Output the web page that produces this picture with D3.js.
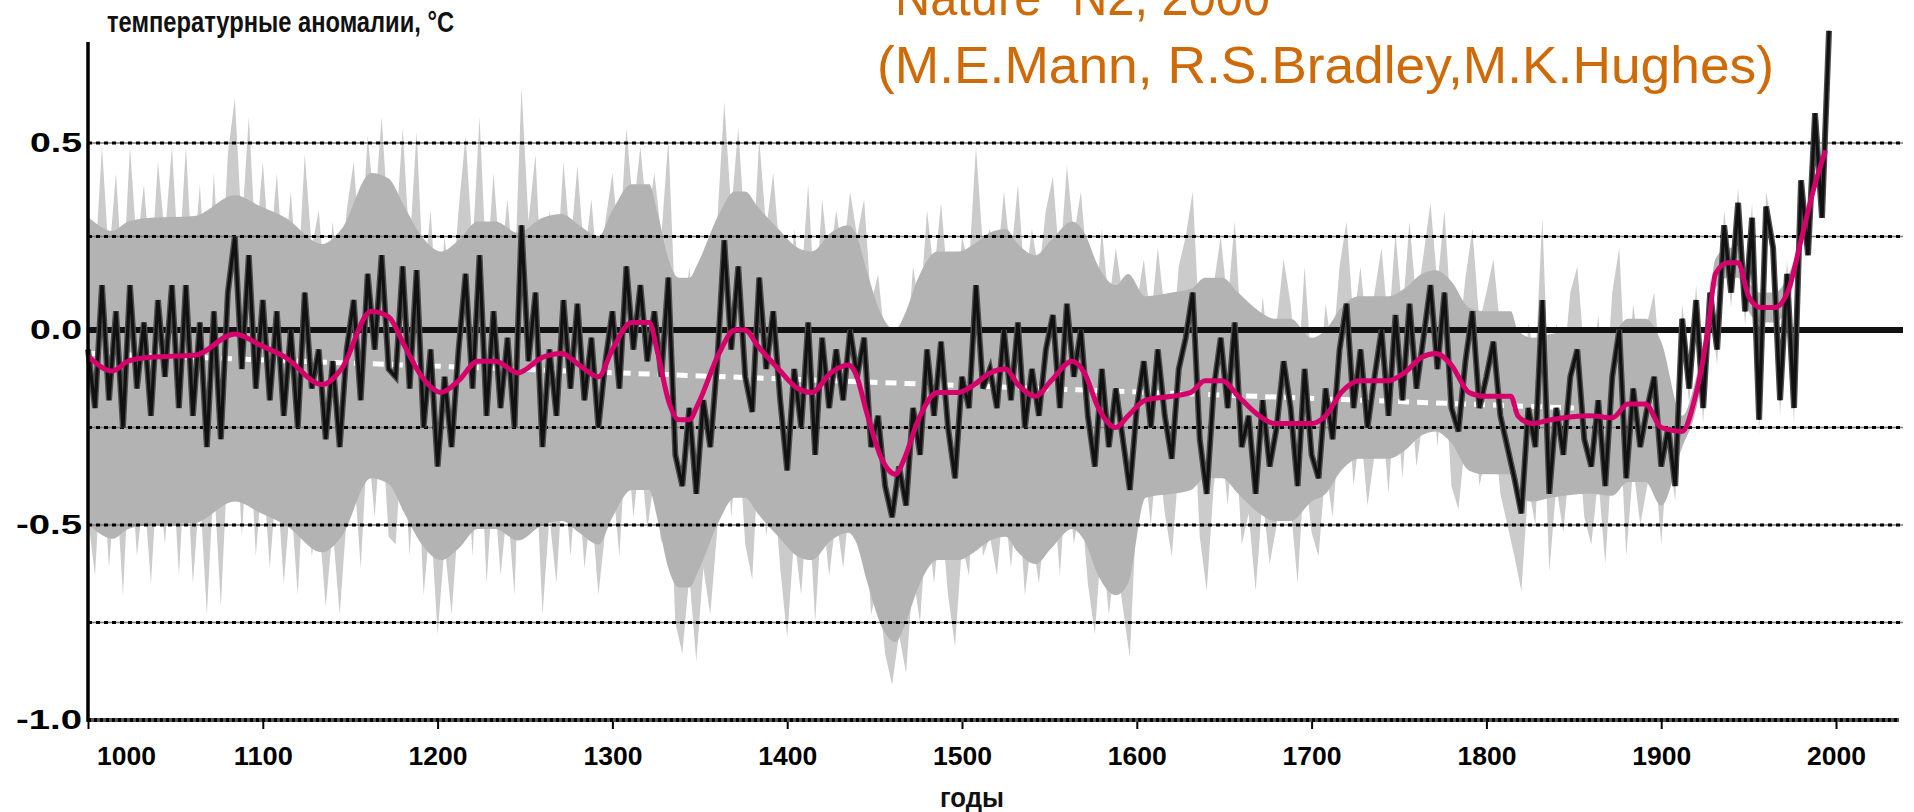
<!DOCTYPE html>
<html>
<head>
<meta charset="utf-8">
<script src="https://cdn.jsdelivr.net/npm/d3@7"></script>
<style>
  html, body { margin: 0; padding: 0; background: #fff; }
  svg { display: block; }
</style>
</head>
<body>
<svg id="chart" width="1914" height="812"></svg>
<script>
/* Annual reconstruction (deg C), one value every 4 years starting in 1000 */
const annualStart = 1000
const annualStep = 4
const annual = [
  -0.05, -0.20, 0.12, -0.18, 0.05, -0.25, 0.12, -0.15, 0.02, -0.22,
  0.08, -0.12, 0.12, -0.20, 0.12, -0.22, 0.02, -0.30, 0.05, -0.28,
  0.10, 0.25, -0.10, 0.20, -0.15, 0.08, -0.18, 0.05, -0.22, 0.00,
  -0.25, 0.10, -0.15, -0.05, -0.28, -0.08, -0.30, -0.05, 0.08, -0.18,
  0.15, -0.05, 0.20, -0.10,
  -0.12, 0.17, -0.15, 0.16, -0.25, -0.05, -0.35, -0.12, -0.30, -0.05,
  0.15, -0.15, 0.20, -0.22, 0.05, -0.20, -0.02, -0.25, 0.28, -0.08,
  0.10, -0.30, -0.05, -0.22, 0.08, -0.15, 0.07, -0.18, -0.02, -0.25,
  -0.08, 0.05, -0.15, 0.17, -0.05, 0.12, -0.08, 0.05, -0.12, 0.14,
  -0.32, -0.40, -0.20,
  -0.42, -0.18, -0.30, -0.08, 0.24, -0.05, 0.17, -0.12, -0.21, 0.14,
  -0.10, 0.05, -0.18, -0.36, -0.10, -0.25, 0.02, -0.32, -0.02, -0.20,
  -0.05, -0.18, 0.00, -0.12, -0.02, -0.30, -0.22, -0.40, -0.48, -0.35,
  -0.45, -0.20, -0.32, -0.05, -0.22, -0.03, -0.25, -0.38, -0.12, -0.20,
  0.12, -0.15,
  -0.10, -0.20, 0.00, -0.18, 0.02, -0.25, -0.10, -0.22, -0.05, 0.04,
  -0.20, 0.07, -0.12, 0.00, -0.22, -0.35, -0.10, -0.30, -0.15, -0.28,
  -0.41, -0.20, -0.08, -0.25, -0.05, -0.22, -0.33, -0.10, -0.02, 0.10,
  -0.28, -0.42, -0.15, -0.02, -0.20, 0.02, -0.30, -0.22, -0.42, -0.18,
  -0.35, -0.25, -0.08,
  -0.20, -0.40, -0.10, -0.32, -0.38, -0.15, -0.28, -0.05, 0.07, -0.20,
  -0.05, -0.25, -0.12, 0.00, -0.22, 0.04, -0.18, 0.07, -0.15, -0.02,
  0.12, -0.10, 0.10, -0.20, -0.26, -0.08, 0.05, -0.20, -0.12, -0.03,
  -0.22, -0.30, -0.38, -0.47, -0.20, -0.30, 0.08, -0.42, -0.20, -0.32,
  -0.12, -0.05, -0.28,
  -0.35, -0.18, -0.40, -0.12, 0.00, -0.38, -0.15, -0.30, -0.20, -0.12,
  -0.35, -0.25, -0.40, 0.03, -0.15, 0.08, -0.20, 0.10, -0.05, 0.28,
  0.10, 0.34, 0.05, 0.30, -0.23, 0.33, 0.22, -0.18, 0.15, -0.20,
  0.40, 0.20, 0.58, 0.30, 0.80
]

/* 40-year smoothed curve */
const smoothYears = [
  1000, 1014, 1023, 1036, 1061, 1084, 1099, 1113, 1134, 1145, 1162, 1172, 1181, 1191, 1202,
  1212, 1223, 1233, 1246, 1260, 1271, 1281, 1292, 1300, 1311, 1321, 1326, 1332, 1338, 1344,
  1349, 1361, 1370, 1376, 1383, 1395, 1406, 1414, 1425, 1435, 1439, 1446, 1454, 1462, 1467,
  1475, 1486, 1498, 1507, 1516, 1525, 1532, 1542, 1551, 1563, 1570, 1578, 1588, 1595, 1605,
  1620, 1631, 1639, 1649, 1658, 1670, 1679, 1688, 1700, 1708, 1717, 1727, 1744, 1753, 1763,
  1771, 1780, 1790, 1799, 1814, 1818, 1826, 1837, 1859, 1872, 1881, 1891, 1900, 1912, 1919,
  1927, 1931, 1938, 1944, 1950, 1957, 1965, 1973, 1980, 1988, 1994
]
const smoothValues = [
  -0.067, -0.105, -0.08, -0.07, -0.065, -0.01, -0.04, -0.07, -0.14, -0.10, 0.05, 0.035, -0.04, -0.12, -0.16,
  -0.13, -0.08, -0.08, -0.11, -0.07, -0.06, -0.09, -0.12, -0.05, 0.02, 0.02, -0.06, -0.18, -0.23, -0.23,
  -0.19, -0.06, 0.0, 0.0, -0.04, -0.10, -0.15, -0.16, -0.11, -0.09, -0.11, -0.22, -0.33, -0.37, -0.33,
  -0.23, -0.16, -0.16, -0.14, -0.11, -0.10, -0.14, -0.17, -0.13, -0.08, -0.11, -0.20, -0.25, -0.22, -0.18,
  -0.17, -0.16, -0.13, -0.13, -0.17, -0.22, -0.24, -0.24, -0.24, -0.22, -0.16, -0.13, -0.13, -0.11, -0.07,
  -0.06, -0.09, -0.16, -0.17, -0.17, -0.22, -0.24, -0.23, -0.22, -0.225, -0.19, -0.19, -0.25, -0.26, -0.18,
  0.01, 0.15, 0.18, 0.18, 0.09, 0.06, 0.06, 0.11, 0.24, 0.39, 0.48
]

/* Uncertainty band: half-widths above / below the curve, per period */
const bandFrom = [1000, 1600, 1700, 1902, 1980]
const bandUp = [0.37, 0.27, 0.22, 0.04, 0]
const bandDown = [0.43, 0.25, 0.20, 0.04, 0]

/* Linear trend 1000-1850 */
const trendYears = [1000, 1850]
const trendValues = [-0.06, -0.20]

/* Ticks and labels */
const xTicks = [1000, 1100, 1200, 1300, 1400, 1500, 1600, 1700, 1800, 1900, 2000]
const yTicks = [0.5, 0.0, -0.5, -1.0]
const gridValues = [0.5, 0.25, -0.25, -0.5, -0.75]
const titleText = "температурные аномалии, °C"
const xLabel = "годы"
const sourceLines = ["Nature\" N2, 2000", "(M.E.Mann, R.S.Bradley,M.K.Hughes)"]

/* Layout */
const plotLeft = 88
const plotRight = 1903
const plotTop = 42
const labelFont = "'Liberation Sans', Arial, sans-serif"

const svg = d3.select("#chart")

const x = d3.scaleLinear([1000, 2000], [plotLeft, 1836])
const y = d3.scaleLinear([-1, 0, 0.5], [720, 330, 143])

const series = annual.map((v, i) => [annualStart + i * annualStep, v])
const smooth = smoothYears.map((yr, i) => [yr, smoothValues[i]])
const eraOf = yr => d3.bisectRight(bandFrom, yr) - 1

const band = d3.area()
  .x(d => x(d[0]))
  .y0(d => y(d[1] - bandDown[eraOf(d[0])]))
  .y1(d => y(d[1] + bandUp[eraOf(d[0])]))

/* uncertainty band: spiky fringe around annual values, solid core around the smooth curve */
svg.append("path")
  .datum(series)
  .attr("fill", "#cbcbcb")
  .attr("d", band)
svg.append("path")
  .datum(smooth)
  .attr("fill", "#b3b3b3")
  .attr("d", band.curve(d3.curveMonotoneX))

/* dotted grid lines */
const grid = svg.append("g")
grid.selectAll("line.under")
  .data(gridValues)
  .join("line")
  .attr("class", "under")
  .attr("x1", plotLeft).attr("x2", plotRight)
  .attr("y1", d => y(d)).attr("y2", d => y(d))
  .attr("stroke", "#7a7a7a")
  .attr("stroke-width", 1.5)
grid.selectAll("line.dots")
  .data(gridValues)
  .join("line")
  .attr("class", "dots")
  .attr("x1", plotLeft).attr("x2", plotRight)
  .attr("y1", d => y(d)).attr("y2", d => y(d))
  .attr("stroke", "#000")
  .attr("stroke-width", 3)
  .attr("stroke-dasharray", "4,4")

/* white dashed trend */
svg.append("path")
  .datum(trendYears.map((yr, i) => [yr, trendValues[i]]))
  .attr("fill", "none")
  .attr("stroke", "#fff")
  .attr("stroke-width", 5)
  .attr("stroke-dasharray", "11,8")
  .attr("d", d3.line().x(d => x(d[0])).y(d => y(d[1])))

/* thick zero line */
svg.append("line")
  .attr("x1", plotLeft).attr("x2", plotRight)
  .attr("y1", y(0)).attr("y2", y(0))
  .attr("stroke", "#111")
  .attr("stroke-width", 6)

/* annual values */
const annualLine = d3.line().x(d => x(d[0])).y(d => y(d[1]))
svg.append("path")
  .datum(series)
  .attr("fill", "none")
  .attr("stroke", "#4d4d4d")
  .attr("stroke-width", 6)
  .attr("d", annualLine)
svg.append("path")
  .datum(series)
  .attr("fill", "none")
  .attr("stroke", "#111")
  .attr("stroke-width", 3.2)
  .attr("d", annualLine)

/* smoothed curve */
svg.append("path")
  .datum(smooth)
  .attr("fill", "none")
  .attr("stroke", "#d6006b")
  .attr("stroke-width", 5)
  .attr("stroke-linejoin", "round")
  .attr("d", d3.line().curve(d3.curveMonotoneX).x(d => x(d[0])).y(d => y(d[1])))

/* x axis: dotted base line + ticks */
svg.append("line")
  .attr("x1", plotLeft).attr("x2", plotRight - 4)
  .attr("y1", y(-1)).attr("y2", y(-1))
  .attr("stroke", "#555")
  .attr("stroke-width", 4)
svg.append("line")
  .attr("x1", plotLeft).attr("x2", plotRight - 4)
  .attr("y1", y(-1)).attr("y2", y(-1))
  .attr("stroke", "#000")
  .attr("stroke-width", 4)
  .attr("stroke-dasharray", "3,3")

svg.append("g")
  .attr("transform", `translate(0, ${y(-1) + 2})`)
  .call(d3.axisBottom(x).tickValues(xTicks).tickFormat(d3.format("d")).tickSize(7).tickSizeOuter(0))
  .call(g => g.select(".domain").remove())
  .call(g => g.selectAll(".tick line").attr("stroke", "#000").attr("stroke-width", 2))
  .call(g => g.selectAll(".tick text")
    .attr("x", d => d === 1000 ? 38 : 0)
    .attr("y", 25)
    .attr("dy", "0.71em")
    .attr("fill", "#000")
    .style("font", `bold 26px ${labelFont}`)
    .attr("textLength", 59)
    .attr("lengthAdjust", "spacingAndGlyphs"))

/* y axis */
svg.append("line")
  .attr("x1", plotLeft).attr("x2", plotLeft)
  .attr("y1", plotTop).attr("y2", y(-1) + 2)
  .attr("stroke", "#000")
  .attr("stroke-width", 3.5)

svg.append("g")
  .attr("transform", `translate(${plotLeft - 2},0)`)
  .call(d3.axisLeft(y).tickValues(yTicks).tickFormat(d => d.toFixed(1)).tickSize(0).tickPadding(4))
  .call(g => g.select(".domain").remove())
  .call(g => g.selectAll(".tick text")
    .attr("fill", "#000")
    .style("font", `bold 27px ${labelFont}`)
    .attr("textLength", d => d < 0 ? 66 : 52)
    .attr("lengthAdjust", "spacingAndGlyphs"))

/* titles */
svg.append("text")
  .attr("x", 107).attr("y", 32)
  .style("font", `bold 29px ${labelFont}`)
  .attr("fill", "#111")
  .attr("textLength", 347)
  .attr("lengthAdjust", "spacingAndGlyphs")
  .text(titleText)

svg.append("text")
  .attr("x", 972).attr("y", 807)
  .attr("text-anchor", "middle")
  .style("font", `bold 28px ${labelFont}`)
  .attr("fill", "#111")
  .attr("textLength", 64)
  .attr("lengthAdjust", "spacingAndGlyphs")
  .text(xLabel)

svg.selectAll("text.source")
  .data(sourceLines)
  .join("text")
  .attr("class", "source")
  .attr("x", (d, i) => i === 0 ? 895 : 877)
  .attr("y", (d, i) => i === 0 ? 15 : 83)
  .attr("fill", "#cf6a08")
  .style("font", `52px ${labelFont}`)
  .attr("textLength", (d, i) => i === 0 ? 375 : 897)
  .attr("lengthAdjust", "spacingAndGlyphs")
  .text(d => d)
</script>
</body>
</html>
